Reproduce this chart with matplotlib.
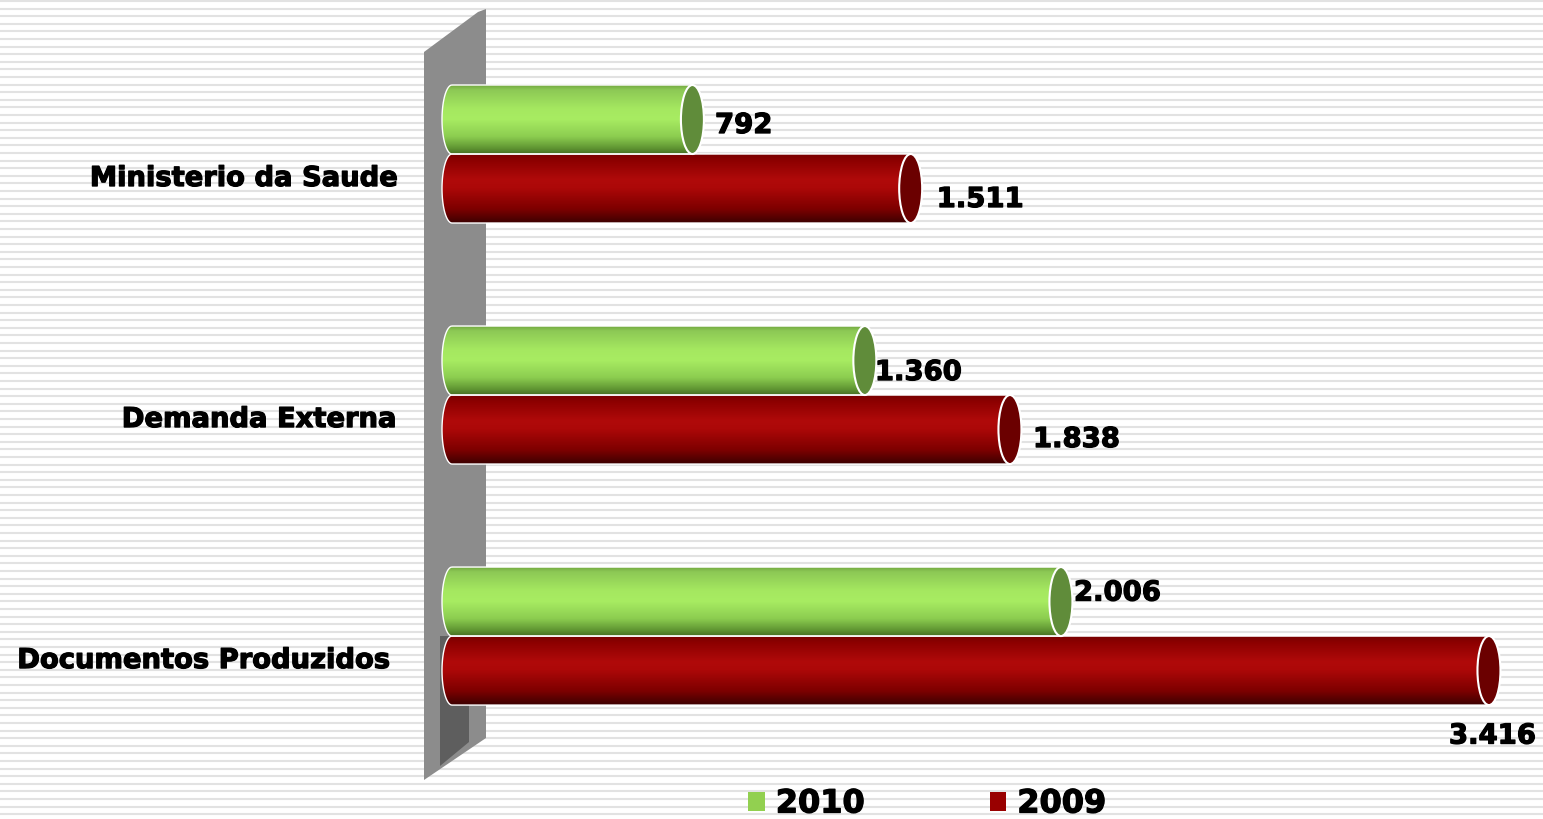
import numpy as np
import matplotlib
matplotlib.use("Agg")
import matplotlib.pyplot as plt
from matplotlib.path import Path
from matplotlib.patches import PathPatch, Ellipse, Polygon, Patch
import matplotlib.transforms as mtransforms
import matplotlib.patheffects as pe

# ---------------- data ----------------
categories = ["Ministerio da Saude", "Demanda Externa", "Documentos Produzidos"]
values_2010 = [792, 1360, 2006]
values_2009 = [1511, 1838, 3416]
labels_2010 = ["792", "1.360", "2.006"]
labels_2009 = ["1.511", "1.838", "3.416"]
years = ["2010", "2009"]

# ---------------- layout / style ----------------
W, H = 1543, 819
XMIN, XMAX = -1489, 3594
YMIN, YMAX = -0.639, 2.759
BAR_H = 0.2863
CAP_W_PX = 23
LEFT_A_PX = 10

GREEN_STOPS = [(0.0, (110, 160, 60)), (0.08, (140, 200, 85)), (0.35, (165, 232, 96)),
               (0.5, (168, 236, 98)), (0.75, (140, 205, 80)), (0.92, (95, 148, 50)),
               (1.0, (70, 110, 35))]
RED_STOPS = [(0.0, (115, 0, 0)), (0.1, (140, 0, 0)), (0.38, (176, 10, 10)),
             (0.5, (172, 8, 8)), (0.8, (125, 0, 0)), (1.0, (60, 0, 0))]
GREEN_CAP = "#608c3a"
RED_CAP = "#6b0000"
LEG_GREEN = "#92d050"
LEG_RED = "#990000"
HEAVY = [pe.withStroke(linewidth=0.9, foreground="black")]

# label offsets in pixels (dx, dy down) relative to bar end / centre
OFF_2010 = [(22.6, 13.5), (10, 19.5), (13, -1)]
OFF_2009 = [(26, 18.5), (23, 17.5), (-40, 73)]
CAT_RIGHT_PX = [397, 396, 389]


def gradient(stops, n=256):
    pos = np.array([s[0] for s in stops])
    cols = np.array([s[1] for s in stops], dtype=float) / 255.0
    t = np.linspace(0, 1, n)
    arr = np.stack([np.interp(t, pos, cols[:, c]) for c in range(3)], axis=-1)
    return arr[:, None, :]


fig = plt.figure(figsize=(W / 100, H / 100), dpi=100)

# background stripes and wall (pixel coordinates)
bg = fig.add_axes([0, 0, 1, 1])
bg.set_xlim(0, W)
bg.set_ylim(H, 0)
bg.axis("off")
for y in np.arange(1.0, H, 7.6):
    bg.axhline(y, color="#e2e2e2", lw=1.5, zorder=0)
bg.add_patch(Polygon([(424, 52), (478, 12), (486, 9), (486, 738), (424, 780)],
                     closed=True, facecolor="#8c8c8c", edgecolor="none", zorder=1))
bg.add_patch(Polygon([(440, 636), (469, 636), (469, 742), (440, 766)],
                     closed=True, facecolor="#5e5e5e", edgecolor="none", zorder=1))

ax = fig.add_axes([0, 0, 1, 1])
ax.patch.set_alpha(0)
ax.axis("off")
k = W / (XMAX - XMIN)  # px per data unit


def cylinder(value, yc, h, grad, cap_color):
    a = LEFT_A_PX / k
    t = np.linspace(0, np.pi, 40)
    xs = np.concatenate([[0, value, value, 0], -a * np.sin(t), [0]])
    ys = np.concatenate([[yc - h / 2, yc - h / 2, yc + h / 2, yc + h / 2],
                         yc + h / 2 * np.cos(t), [yc - h / 2]])
    path = Path(np.column_stack([xs, ys]))
    im = ax.imshow(grad, extent=(-a, value, yc + h / 2, yc - h / 2), aspect="auto",
                   interpolation="bilinear", zorder=2)
    patch = PathPatch(path, facecolor="none", edgecolor="white", lw=1.0, zorder=3)
    ax.add_patch(patch)
    im.set_clip_path(patch)
    ax.add_patch(Ellipse((value, yc), CAP_W_PX / k, h, facecolor=cap_color,
                         edgecolor="white", lw=1.5, zorder=4))


g_grad = gradient(GREEN_STOPS)
r_grad = gradient(RED_STOPS)

for i in range(len(categories)):
    yg = i - BAR_H / 2
    yr = i + BAR_H / 2
    cylinder(values_2009[i], yr, BAR_H, r_grad, RED_CAP)
    cylinder(values_2010[i], yg, BAR_H, g_grad, GREEN_CAP)
    dx, dy = OFF_2010[i]
    ax.annotate(labels_2010[i], xy=(values_2010[i], yg), xytext=(dx * 0.72, -dy * 0.72),
                textcoords="offset points", ha="left", va="baseline",
                fontsize=19.8, fontweight="bold", color="black", zorder=6,
                path_effects=HEAVY)
    dx, dy = OFF_2009[i]
    ax.annotate(labels_2009[i], xy=(values_2009[i], yr), xytext=(dx * 0.72, -dy * 0.72),
                textcoords="offset points", ha="left", va="baseline",
                fontsize=19.8, fontweight="bold", color="black", zorder=6,
                path_effects=HEAVY)

blend = mtransforms.blended_transform_factory(fig.transFigure, ax.transData)
cat_trans = mtransforms.offset_copy(blend, fig=fig, y=-32 * 0.72, units="points")
for i, name in enumerate(categories):
    ax.text(CAT_RIGHT_PX[i] / W, i, name, transform=cat_trans, ha="right", va="baseline",
            fontsize=19.7, fontweight="bold", color="black", path_effects=HEAVY)

ax.set_xlim(XMIN, XMAX)
ax.set_ylim(YMAX, YMIN)

handles = [Patch(facecolor=LEG_GREEN, edgecolor="none"),
           Patch(facecolor=LEG_RED, edgecolor="none")]
leg = ax.legend(handles, years, loc="center left", bbox_to_anchor=(748 / W, 1 - 804 / H),
                frameon=False, ncol=2, prop={"weight": "bold", "size": 23},
                handlelength=0.53, handleheight=0.53, handletextpad=0.34,
                columnspacing=3.9, borderpad=0, borderaxespad=0)
for txt in leg.get_texts():
    txt.set_path_effects(HEAVY)

fig.savefig("out.png", dpi=100)
